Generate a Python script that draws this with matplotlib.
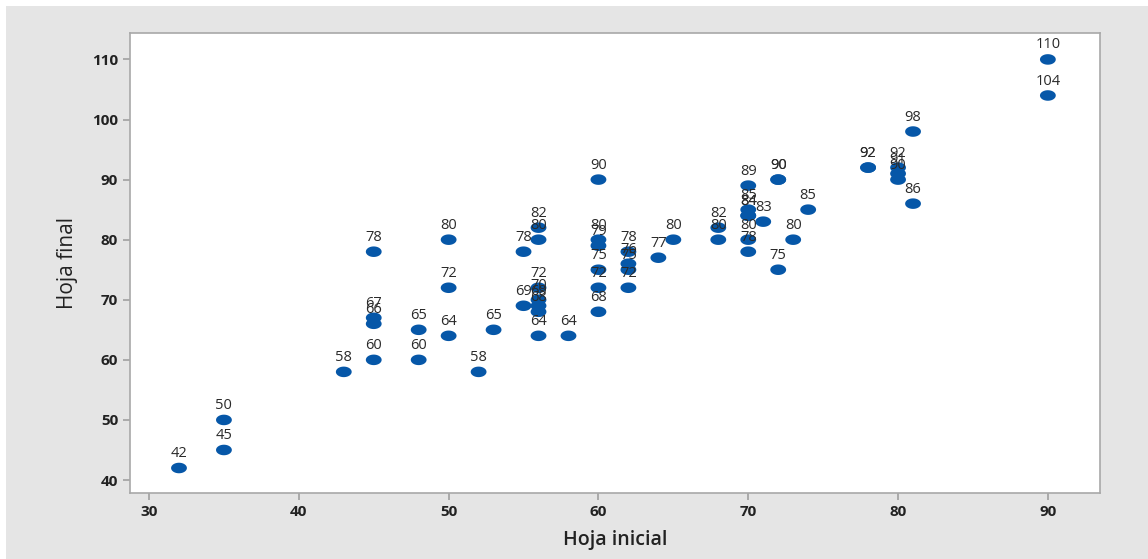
import matplotlib
matplotlib.use("Agg")
import matplotlib.pyplot as plt
from matplotlib.path import Path
from matplotlib.patches import Rectangle
import numpy as np

hoja_inicial = [32, 35, 35, 43, 45, 45, 45, 45, 48, 48, 50, 50, 50, 52, 53, 55, 55,
                56, 56, 56, 56, 56, 56, 56, 58,
                60, 60, 60, 60, 60, 60,
                62, 62, 62, 62, 64, 65, 68, 68,
                70, 70, 70, 70, 70, 70, 71, 72, 72, 72, 73, 74, 78, 78,
                80, 80, 80, 81, 81, 90, 90]
hoja_final = [42, 50, 45, 58, 78, 67, 66, 60, 65, 60, 80, 72, 64, 58, 65, 78, 69,
              82, 80, 72, 70, 69, 68, 64, 64,
              90, 80, 79, 75, 72, 68,
              78, 76, 75, 72, 77, 80, 82, 80,
              89, 85, 84, 84, 80, 78, 83, 90, 90, 75, 80, 85, 92, 92,
              92, 91, 90, 98, 86, 110, 104]

x_ticks = [30, 40, 50, 60, 70, 80, 90]
y_ticks = [40, 50, 60, 70, 80, 90, 100, 110]

plt.rcParams['font.family'] = ['Open Sans', 'DejaVu Sans']

fig = plt.figure(figsize=(11.48, 5.59), dpi=100, facecolor='white')
fig.patches.append(Rectangle((6/1148, 0), 1142/1148, 553/559, transform=fig.transFigure,
                             facecolor='#e5e5e5', edgecolor='none', zorder=-10))
ax = fig.add_axes([130/1148, (559-493)/559, 970/1148, 460/559])
ax.set_facecolor('white')

# horizontally elongated rounded marker
t = np.linspace(0, 2*np.pi, 40)
ell = Path(np.column_stack([1.5*np.cos(t), np.sin(t)]), closed=True)

ax.scatter(hoja_inicial, hoja_final, marker=ell, s=130, color='#0657a8', edgecolors='none', zorder=3)
for xv, yv in zip(hoja_inicial, hoja_final):
    ax.annotate(str(yv), (xv, yv), xytext=(0, 5), textcoords='offset points',
                ha='center', va='bottom', fontsize=10.5, color='#2a2a2a')

ax.set_xlim(28.73, 93.48)
ax.set_ylim(37.84, 114.4)
ax.set_xticks(x_ticks)
ax.set_yticks(y_ticks)
for s in ax.spines.values():
    s.set_color('#a8a8a8')
    s.set_linewidth(1.2)
ax.tick_params(axis='both', color='#a0a0a0', length=5, width=1.2, labelsize=11, labelcolor='#222222')
for lab in ax.get_yticklabels() + ax.get_xticklabels():
    lab.set_fontweight('bold')
ax.set_xlabel('Hoja inicial', fontsize=14, fontweight='semibold', color='#222222', labelpad=8)
ax.set_ylabel('Hoja final', fontsize=15, color='#222222', labelpad=10)

fig.savefig('out.png', dpi=100, facecolor=fig.get_facecolor())
